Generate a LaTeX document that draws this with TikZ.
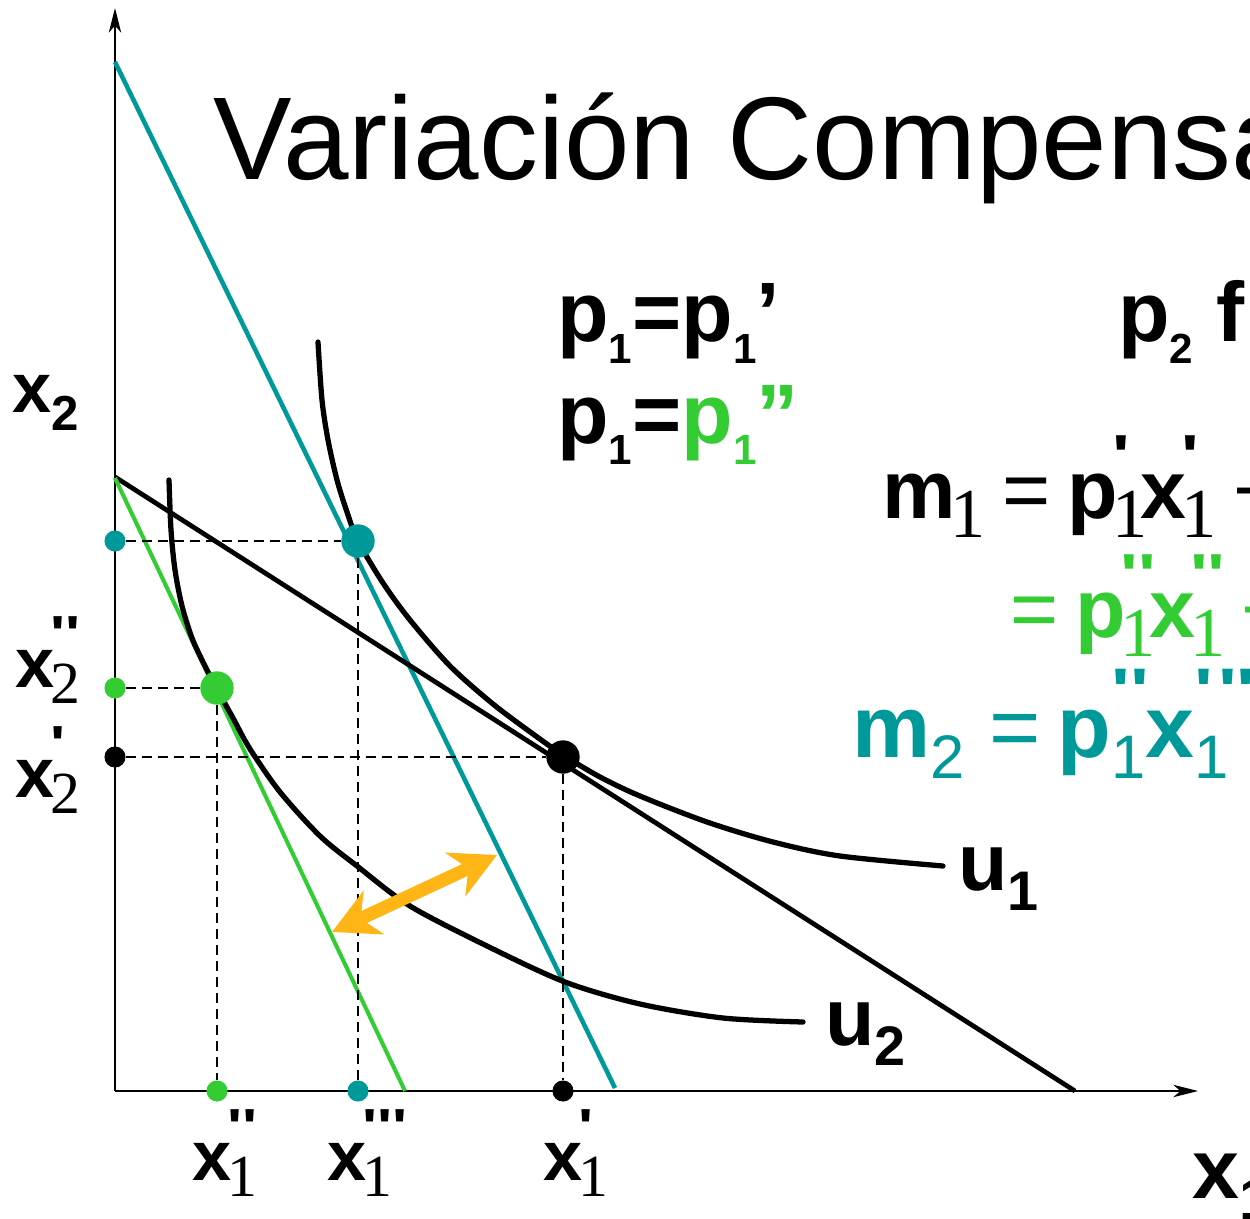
\documentclass[tikz,border=0pt]{standalone}
\usepackage{fontspec}
\setmainfont{Liberation Sans}
\newfontfamily\vcserif{Liberation Serif}
\newfontfamily\tickfont{Liberation Sans}
\usepackage{graphicx}
\usetikzlibrary{arrows.meta}

\definecolor{vcteal}{RGB}{0,153,153}
\definecolor{vcgreen}{RGB}{51,204,51}
\definecolor{vcorange}{RGB}{255,181,21}

% sans subscript
\newcommand{\vcsub}[2][0.7]{\raisebox{-0.25em}{\scalebox{#1}{#2}}}
% ticks set above a subscript
\newcommand{\vctick}[1]{\makebox[0pt][l]{\raisebox{0.52em}{\scalebox{0.9}[0.7]{\tickfont\bfseries #1}}}}
% serif subscript with ticks above it
\newcommand{\vcss}[2]{\kern-0.06em\relax\vctick{#1}\raisebox{-0.24em}{\scalebox{0.85}{\vcserif\mdseries #2}}\kern-0.08em\relax}
% sans subscript with ticks above it
\newcommand{\vcst}[2]{\vctick{#1}\raisebox{-0.25em}{\scalebox{0.7}{\mdseries #2}}}
\newcommand{\vceq}{{\mdseries =}\hspace{0.2em}}

\begin{document}
\begin{tikzpicture}[x=0.02cm, y=-0.02cm,
  axis/.style={line width=1.5pt, -{Stealth[length=14pt, width=7pt, inset=4pt]}},
  budget/.style={line width=2.7pt},
  curve/.style={line width=3pt, line cap=round},
  guide/.style={line width=1.3pt, dash pattern=on 5.7pt off 3.4pt},
  bigdot/.style={circle, inner sep=0pt, minimum size=19pt},
  smalldot/.style={circle, inner sep=0pt, minimum size=12pt},
  txt/.style={inner sep=0pt, anchor=base west},
  axlabel/.style={txt, font=\fontsize{40}{44}\selectfont\bfseries},
  eqlabel/.style={txt, font=\fontsize{47}{50}\selectfont\bfseries}]
  \useasboundingbox (0,0) rectangle (1250,1219);
  \clip (0,0) rectangle (1250,1219);

  % Axes
  \coordinate (O) at (115,1091);
  \coordinate (ytop) at (115,8);
  \coordinate (xend) at (1198,1091);
  \draw[axis] (O) -- (ytop);
  \draw[axis] (O) -- (xend);

  % Budget lines
  \coordinate (tealA) at (115,62);
  \coordinate (tealB) at (615,1088);
  \coordinate (blackA) at (115,477);
  \coordinate (blackB) at (1075,1091);
  \coordinate (greenA) at (115,478);
  \coordinate (greenB) at (405,1091);
  \draw[budget, vcteal, line width=2.6pt] (tealA) -- (tealB);
  \draw[budget] (blackA) -- (blackB);
  \draw[budget, vcgreen, line width=2.3pt] (greenA) -- (greenB);

  % Indifference curves
  \draw[curve] plot[smooth] coordinates {(318,342) (322,400) (328,440) (337,480) (347,512) (358,541) (383,583) (410,620) (450,666) (493,704) (533,734) (563,755) (600,777) (640,796) (707,822) (773,842) (840,856) (943,866)};
  \draw[curve] plot[smooth] coordinates {(169,480) (171,530) (175,570) (182,606) (192,638) (204,664) (217,689) (233,718) (250,749) (280,792) (320,836) (357,866) (410,906) (487,946) (565,982) (640,1004) (723,1018) (803,1022)};

  % Optimal baskets
  \node[bigdot, fill=vcteal] (Et) at (358,541) {};
  \node[bigdot, fill=vcgreen] (Eg) at (217,688) {};
  \node[bigdot, fill=black] (Eb) at (563,757) {};
  \node[smalldot, fill=vcteal] (Ety) at (O |- Et) {};
  \node[smalldot, fill=vcteal] (Etx) at (Et |- O) {};
  \node[smalldot, fill=vcgreen] (Egy) at (O |- Eg) {};
  \node[smalldot, fill=vcgreen] (Egx) at (Eg |- O) {};
  \node[smalldot, fill=black] (Eby) at (O |- Eb) {};
  \node[smalldot, fill=black] (Ebx) at (Eb |- O) {};
  \draw[guide] (Ety) -- (Et) -- (Etx);
  \draw[guide] (Egy) -- (Eg) -- (Egx);
  \draw[guide] (Eby) -- (Eb) -- (Ebx);

  % Shift between green and teal lines
  \coordinate (shiftL) at (332,932);
  \coordinate (shiftR) at (497,855);
  \draw[vcorange, line width=7.5pt, {Stealth[length=26pt, width=27pt, inset=8pt]}-{Stealth[length=26pt, width=27pt, inset=8pt]}] (shiftL) -- (shiftR);

  % Title and equations
  \node[txt, font=\fontsize{67}{70}\selectfont] (title) at (213,180) {Variación Compensada};
  \node[txt, font=\fontsize{48}{52}\selectfont\bfseries] (prow1) at (557,342) {p\vcsub[0.5]{1}=p\vcsub[0.5]{1}’};
  \node[txt, font=\fontsize{48}{52}\selectfont\bfseries] (prow2) at (557,443) {p\vcsub[0.5]{1}=\textcolor{vcgreen}{p\vcsub[0.5]{1}”}};
  \node[txt, font=\fontsize{48}{52}\selectfont\bfseries] (pfix) at (1118,342) {p\vcsub[0.5]{2} f};
  \node[eqlabel] (mrow1) at (882,518) {m\vcss{}{1} \vceq p\vcss{'}{1}x\vcss{'}{1} {\mdseries +}};
  \node[eqlabel, text=vcgreen] (mrow2) at (1010,637) {\vceq p\vcss{''}{1}x\vcss{''}{1} {\mdseries +}};
  \node[eqlabel, text=vcteal, font=\fontsize{50}{54}\selectfont\bfseries] (mrow3) at (852,757) {m\vcsub{\mdseries 2} \vceq p\vcst{''}{1}x\vcst{'\kern3pt''}{1}};

  % Curve labels
  \node[txt, font=\fontsize{46}{50}\selectfont\bfseries] (ulab1) at (958,890) {u\vcsub[0.69]{1}};
  \node[txt, font=\fontsize{46}{50}\selectfont\bfseries] (ulab2) at (825,1045) {u\vcsub[0.69]{2}};

  % Axis labels
  \node[axlabel] (xtwo) at (12,413) {x\vcsub{2}};
  \node[axlabel] (xtwopp) at (15,687) {x\vcss{''}{2}};
  \node[axlabel] (xtwop) at (15,797) {x\vcss{'}{2}};
  \node[axlabel] (xonepp) at (192,1180) {x\vcss{''}{1}};
  \node[axlabel] (xoneppp) at (327,1180) {x\vcss{'''}{1}};
  \node[axlabel] (xonep) at (543,1180) {x\vcss{'}{1}};
  \node[axlabel, font=\fontsize{48}{52}\selectfont\bfseries] (xone) at (1192,1198) {x\vcsub{1}};
\end{tikzpicture}
\end{document}
